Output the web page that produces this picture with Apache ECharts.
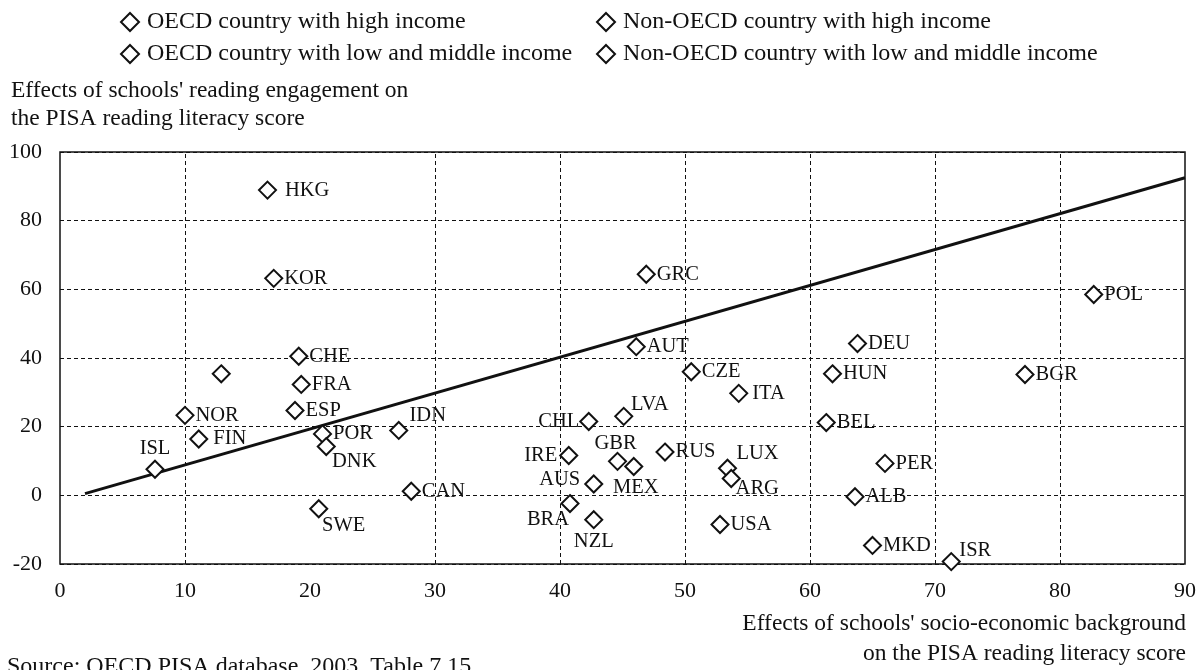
<!DOCTYPE html>
<html>
<head>
<meta charset="utf-8">
<script src="https://cdn.jsdelivr.net/npm/echarts@6/dist/echarts.min.js"></script>
<style>
html,body{margin:0;padding:0;background:#fff;}
#chart{width:1204px;height:670px;}
</style>
</head>
<body>
<div id="chart"></div>
<script>
// ---- data ----
var countries = ['HKG','KOR','CHE','','FRA','NOR','ESP','FIN','ISL','POR','DNK','IDN','CAN','SWE',
  'GRC','AUT','CZE','ITA','CHL','LVA','IRE','GBR','MEX','RUS','LUX','ARG','AUS','BRA','NZL','USA',
  'ALB','MKD','ISR','POL','DEU','HUN','BGR','BEL','PER'];
var socioEffect = [16.6,17.1,19.1,12.9,19.3,10.0,18.8,11.1,7.6,21.0,21.3,27.1,28.1,20.7,
  46.9,46.1,50.5,54.3,42.3,45.1,40.7,44.6,45.9,48.4,53.4,53.7,42.7,40.8,42.7,52.8,
  63.6,65.0,71.3,82.7,63.8,61.8,77.2,61.3,66.0];
var engagementEffect = [88.9,63.2,40.5,35.4,32.3,23.3,24.7,16.4,7.6,17.9,14.2,18.9,1.2,-3.9,
  64.4,43.3,36.0,29.7,21.5,23.0,11.6,9.9,8.4,12.6,7.9,4.9,3.3,-2.4,-7.1,-8.5,
  -0.4,-14.6,-19.3,58.5,44.2,35.4,35.2,21.2,9.3];
var groupOf = ['NH','OH','OH','OH','OH','OH','OH','OH','OH','OH','OH','NL','OH','OH',
  'OH','OH','OL','OH','NL','NL','OH','OH','OL','NL','OH','NL','OH','NL','OH','OH',
  'NL','NL','NH','OL','OH','OL','NL','OH','NL'];
var groupKeys = ['OH','OL','NH','NL'];
var groupNames = ['OECD country with high income','OECD country with low and middle income',
  'Non-OECD country with high income','Non-OECD country with low and middle income'];
var lineX = [2, 90];
var lineY = [0.5, 92.5];
var xTicks = [0,10,20,30,40,50,60,70,80,90];
var xGridLines = [10,30,40,50,60,70,80];   // the reference shows no dashed line at 20
var yTicks = [-20,0,20,40,60,80,100];
var yTitle = ["Effects of schools' reading engagement on", 'the PISA reading literacy score'];
var xTitle = ["Effects of schools' socio-economic background", 'on the PISA reading literacy score'];
var sourceNote = 'Source: OECD PISA database, 2003. Table 7.15';

// ---- label placement (style only) ----
var labelPlace = {
  HKG:{position:'right',distance:8},
  FIN:{position:'right',distance:5},
  ITA:{position:'right',distance:4},
  ISL:{position:'top',distance:1},
  CHL:{position:'left',distance:0},
  IRE:{position:'left',distance:2},
  AUS:{position:'inside',offset:[-34,-4]},
  DNK:{position:'inside',offset:[28,15]},
  IDN:{position:'inside',offset:[29,-15]},
  SWE:{position:'inside',offset:[25,17]},
  LVA:{position:'inside',offset:[26,-12]},
  GBR:{position:'inside',offset:[-2,-18]},
  MEX:{position:'inside',offset:[2,21]},
  LUX:{position:'inside',offset:[30,-15]},
  ARG:{position:'inside',offset:[26,10]},
  BRA:{position:'inside',offset:[-22,16]},
  NZL:{position:'inside',offset:[0,22]},
  ISR:{position:'inside',offset:[24,-11]}
};

var FONT = '"Liberation Serif", "DejaVu Serif", serif';
var INK = '#111';
var DASH = [4,3];

function buildSeries(key, idx) {
  var data = [];
  for (var i = 0; i < countries.length; i++) {
    if (groupOf[i] !== key) continue;
    var p = labelPlace[countries[i]] || {position:'right', distance:1};
    var lbl = {show: countries[i] !== '', position: p.position, distance: p.distance || 0};
    if (p.offset) { lbl.offset = p.offset; lbl.align = 'center'; lbl.verticalAlign = 'middle'; }
    data.push({name: countries[i], value: [socioEffect[i], engagementEffect[i]], label: lbl});
  }
  return {
    name: groupNames[idx],
    type: 'scatter',
    symbol: 'diamond',
    symbolSize: 17,
    itemStyle: {color: '#fff', borderColor: INK, borderWidth: 2, opacity: 1},
    label: {formatter: '{b}', color: INK, fontFamily: FONT, fontSize: 20.5},
    emphasis: {disabled: true},
    data: data,
    z: 5
  };
}

var series = groupKeys.map(buildSeries);
series.push({
  type: 'line',
  data: lineX.map(function (x, i) { return [x, lineY[i]]; }),
  symbol: 'none',
  lineStyle: {color: INK, width: 3},
  silent: true,
  z: 3,
  markLine: {
    silent: true,
    symbol: ['none', 'none'],
    label: {show: false},
    lineStyle: {color: INK, type: DASH, width: 1},
    emphasis: {disabled: true},
    data: xGridLines.map(function (v) { return {xAxis: v}; }),
    z: 1
  }
});

function legendCfg(names, left) {
  return {
    data: names, left: left, top: 10, orient: 'vertical', itemGap: 8, padding: 0,
    itemWidth: 18, itemHeight: 18,
    textStyle: {fontFamily: FONT, fontSize: 24, lineHeight: 24, color: INK, padding: [0,0,0,3]},
    selectedMode: false
  };
}

var chart = echarts.init(document.getElementById('chart'), null, {renderer: 'canvas'});
chart.setOption({
  animation: false,
  backgroundColor: '#fff',
  textStyle: {fontFamily: FONT, color: INK},
  legend: [legendCfg([groupNames[0], groupNames[1]], 120), legendCfg([groupNames[2], groupNames[3]], 596)],
  grid: {left: 60, top: 152, width: 1125, height: 412, show: true, borderColor: INK, borderWidth: 1.5, backgroundColor: 'transparent'},
  xAxis: {
    type: 'value', min: xTicks[0], max: xTicks[xTicks.length-1], interval: 10,
    axisLine: {show: false}, axisTick: {show: false},
    axisLabel: {margin: 16, fontSize: 22, fontFamily: FONT, color: INK},
    splitLine: {show: false}
  },
  yAxis: {
    type: 'value', min: yTicks[0], max: yTicks[yTicks.length-1], interval: 20,
    axisLine: {show: false}, axisTick: {show: false},
    axisLabel: {margin: 18, fontSize: 22, fontFamily: FONT, color: INK},
    splitLine: {show: true, lineStyle: {color: INK, type: DASH, width: 1}}
  },
  graphic: [
    {type:'text', left: 11, top: 79, style:{text: yTitle[0], font:'23.5px ' + FONT, fill: INK}},
    {type:'text', left: 11, top: 107, style:{text: yTitle[1], font:'23.5px ' + FONT, fill: INK}},
    {type:'text', right: 18, top: 612, style:{text: xTitle[0], font:'23.5px ' + FONT, fill: INK}},
    {type:'text', right: 18, top: 642, style:{text: xTitle[1], font:'23.5px ' + FONT, fill: INK}},
    {type:'text', left: 7, top: 655, style:{text: sourceNote, font:'24px ' + FONT, fill: INK}}
  ],
  series: series
});
</script>
</body>
</html>
